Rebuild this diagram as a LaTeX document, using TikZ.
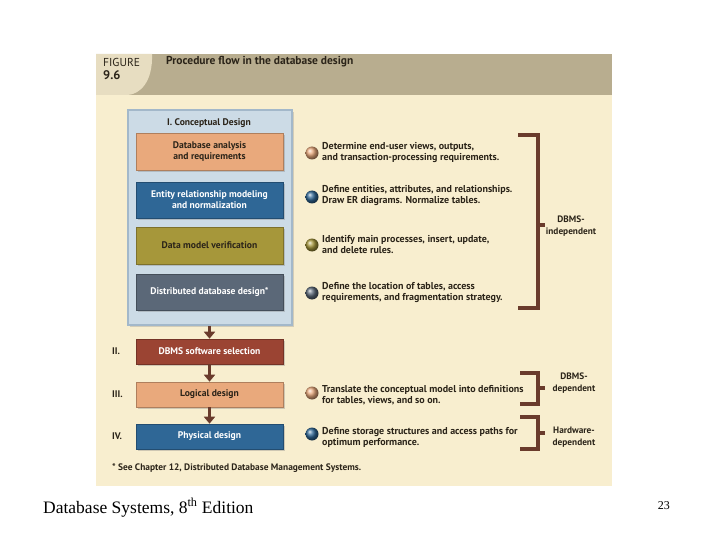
\documentclass[tikz,border=0pt]{standalone}
\usepackage{fontspec}
\setmainfont{Liberation Serif}
\newfontfamily\figfont{PT Sans}
\usetikzlibrary{arrows.meta,shadows}
\definecolor{cream}{HTML}{F8EECF}
\definecolor{headtan}{HTML}{B8AD8F}
\definecolor{tabcol}{HTML}{E7DDC1}
\definecolor{panelblue}{HTML}{CCDBE6}
\definecolor{paneledge}{HTML}{A3B8CA}
\definecolor{salmon}{HTML}{E9A97C}
\definecolor{bluebox}{HTML}{2F6796}
\definecolor{olive}{HTML}{A6973A}
\definecolor{slate}{HTML}{5B6878}
\definecolor{brick}{HTML}{9B4433}
\definecolor{brownline}{HTML}{6A3B2C}
\definecolor{txt}{HTML}{2B2419}
\begin{document}
\begin{tikzpicture}[x=1pt,y=-1pt,
  fig/.style={font=\figfont\bfseries\fontsize{9.6}{11}\selectfont, text=txt},
  stepbox/.style={fig, minimum width=147pt, minimum height=#1, inner sep=0pt, align=center,
    drop shadow={shadow xshift=1.5pt, shadow yshift=-1.8pt, opacity=0.35}},
  boxfill/.style={fill=#1, draw=#1!75!black, line width=0.6pt},
  flowarrow/.style={draw=brownline, line width=3.5pt, -{Triangle[width=11pt,length=7pt]}},
  ball/.style={circle, minimum size=13pt, inner sep=0pt, shading=ball, ball color=#1},
  note/.style={fig, font=\figfont\bfseries\fontsize{10}{11}\selectfont, anchor=west, align=left, inner sep=0pt},
  brk/.style={draw=brownline, line width=4.5pt},
  brklabel/.style={fig, font=\figfont\bfseries\fontsize{9.3}{11.5}\selectfont, align=center, inner sep=0pt},
  roman/.style={fig, anchor=west, inner sep=0pt}
]
\useasboundingbox (0,0) rectangle (720,540);
\fill[white] (0,0) rectangle (720,540);
% figure panel
\fill[cream] (96,54) rectangle (612,486);
\fill[headtan] (96,54) rectangle (612,95);
\fill[tabcol] (96,54) -- (152,54) .. controls (153,82) and (140,94) .. (128,95) -- (96,95) -- cycle;
\node[font=\figfont\fontsize{11.5}{12}\selectfont, text=txt, anchor=west, inner sep=0pt] (figlab) at (103,62) {FIGURE};
\node[font=\figfont\bfseries\fontsize{12.5}{13}\selectfont, text=txt, anchor=west, inner sep=0pt] (fignum) at (103,75) {9.6};
\node[fig, font=\figfont\bfseries\fontsize{11.5}{12}\selectfont, anchor=west, inner sep=0pt] (title) at (166,62) {Procedure flow in the database design};
% conceptual design panel
\node[draw=paneledge, fill=panelblue, line width=1.2pt, minimum width=164pt, minimum height=215pt, inner sep=0pt,
  drop shadow={shadow xshift=2pt, shadow yshift=-2pt, opacity=0.3}] (concept) at (210,217.5) {};
\node[fig] (concepttitle) at (209,123) {I. Conceptual Design};
\node[stepbox=37pt, boxfill=salmon] (b1) at (209.5,151.5) {Database analysis\\and requirements};
\node[stepbox=36pt, boxfill=bluebox, text=white] (b2) at (209.5,200) {Entity relationship modeling\\and normalization};
\node[stepbox=37pt, boxfill=olive] (b3) at (209.5,245.5) {Data model verification};
\node[stepbox=36pt, boxfill=slate, text=white] (b4) at (209.5,292) {Distributed database design*};
\node[stepbox=25pt, boxfill=brick, text=white] (b5) at (209.5,351.5) {DBMS software selection};
\node[stepbox=25pt, boxfill=salmon] (b6) at (209.5,394.5) {Logical design};
\node[stepbox=25pt, boxfill=bluebox, text=white] (b7) at (209.5,436.5) {Physical design};
% arrows
\draw[flowarrow] (concept.south -| b5.north) -- (b5.north);
\draw[flowarrow] (b5.south) -- (b6.north);
\draw[flowarrow] (b6.south) -- (b7.north);
% roman numerals
\node[roman] (r2) at (112,351.5) {II.};
\node[roman] (r3) at (112,394) {III.};
\node[roman] (r4) at (112,436.5) {IV.};
% bullets and notes
\node[ball=salmon] (c1) at (312,153) {};
\node[note] (n1) at (322,152.5) {Determine end-user views, outputs,\\and transaction-processing requirements.};
\node[ball=bluebox] (c2) at (312,197) {};
\node[note] (n2) at (322,196) {Define entities, attributes, and relationships.\\Draw ER diagrams. Normalize tables.};
\node[ball=olive] (c3) at (312,245) {};
\node[note] (n3) at (322,245) {Identify main processes, insert, update,\\and delete rules.};
\node[ball=slate] (c4) at (312,293) {};
\node[note] (n4) at (322,292.5) {Define the location of tables, access\\requirements, and fragmentation strategy.};
\node[ball=salmon] (c5) at (312,393) {};
\node[note] (n5) at (322,395) {Translate the conceptual model into definitions\\for tables, views, and so on.};
\node[ball=bluebox] (c6) at (312,434) {};
\node[note] (n6) at (322,437) {Define storage structures and access paths for\\optimum performance.};
% brackets
\draw[brk] (518,135) -- (538,135) -- (538,308) -- (518,308);
\draw[brk] (538,225) -- (545,225);
\node[brklabel] (l1) at (571,226) {DBMS-\\independent};
\draw[brk] (520,373) -- (538,373) -- (538,404) -- (520,404);
\draw[brk] (538,388) -- (545,388);
\node[brklabel] (l2) at (574,383) {DBMS-\\dependent};
\draw[brk] (520,417) -- (538,417) -- (538,449) -- (520,449);
\draw[brk] (538,433) -- (545,433);
\node[brklabel] (l3) at (574,437) {Hardware-\\dependent};
% footnote
\node[note, font=\figfont\bfseries\fontsize{9.4}{11}\selectfont] (foot) at (112,468) {* See Chapter 12, Distributed Database Management Systems.};
% slide footer
\node[anchor=base west, inner sep=0pt, font=\fontsize{17.5}{19}\selectfont] (src) at (43,513) {Database Systems, 8\textsuperscript{th} Edition};
\node[anchor=base east, inner sep=0pt, font=\fontsize{12}{14}\selectfont] (pg) at (670,509) {23};
\end{tikzpicture}
\end{document}
